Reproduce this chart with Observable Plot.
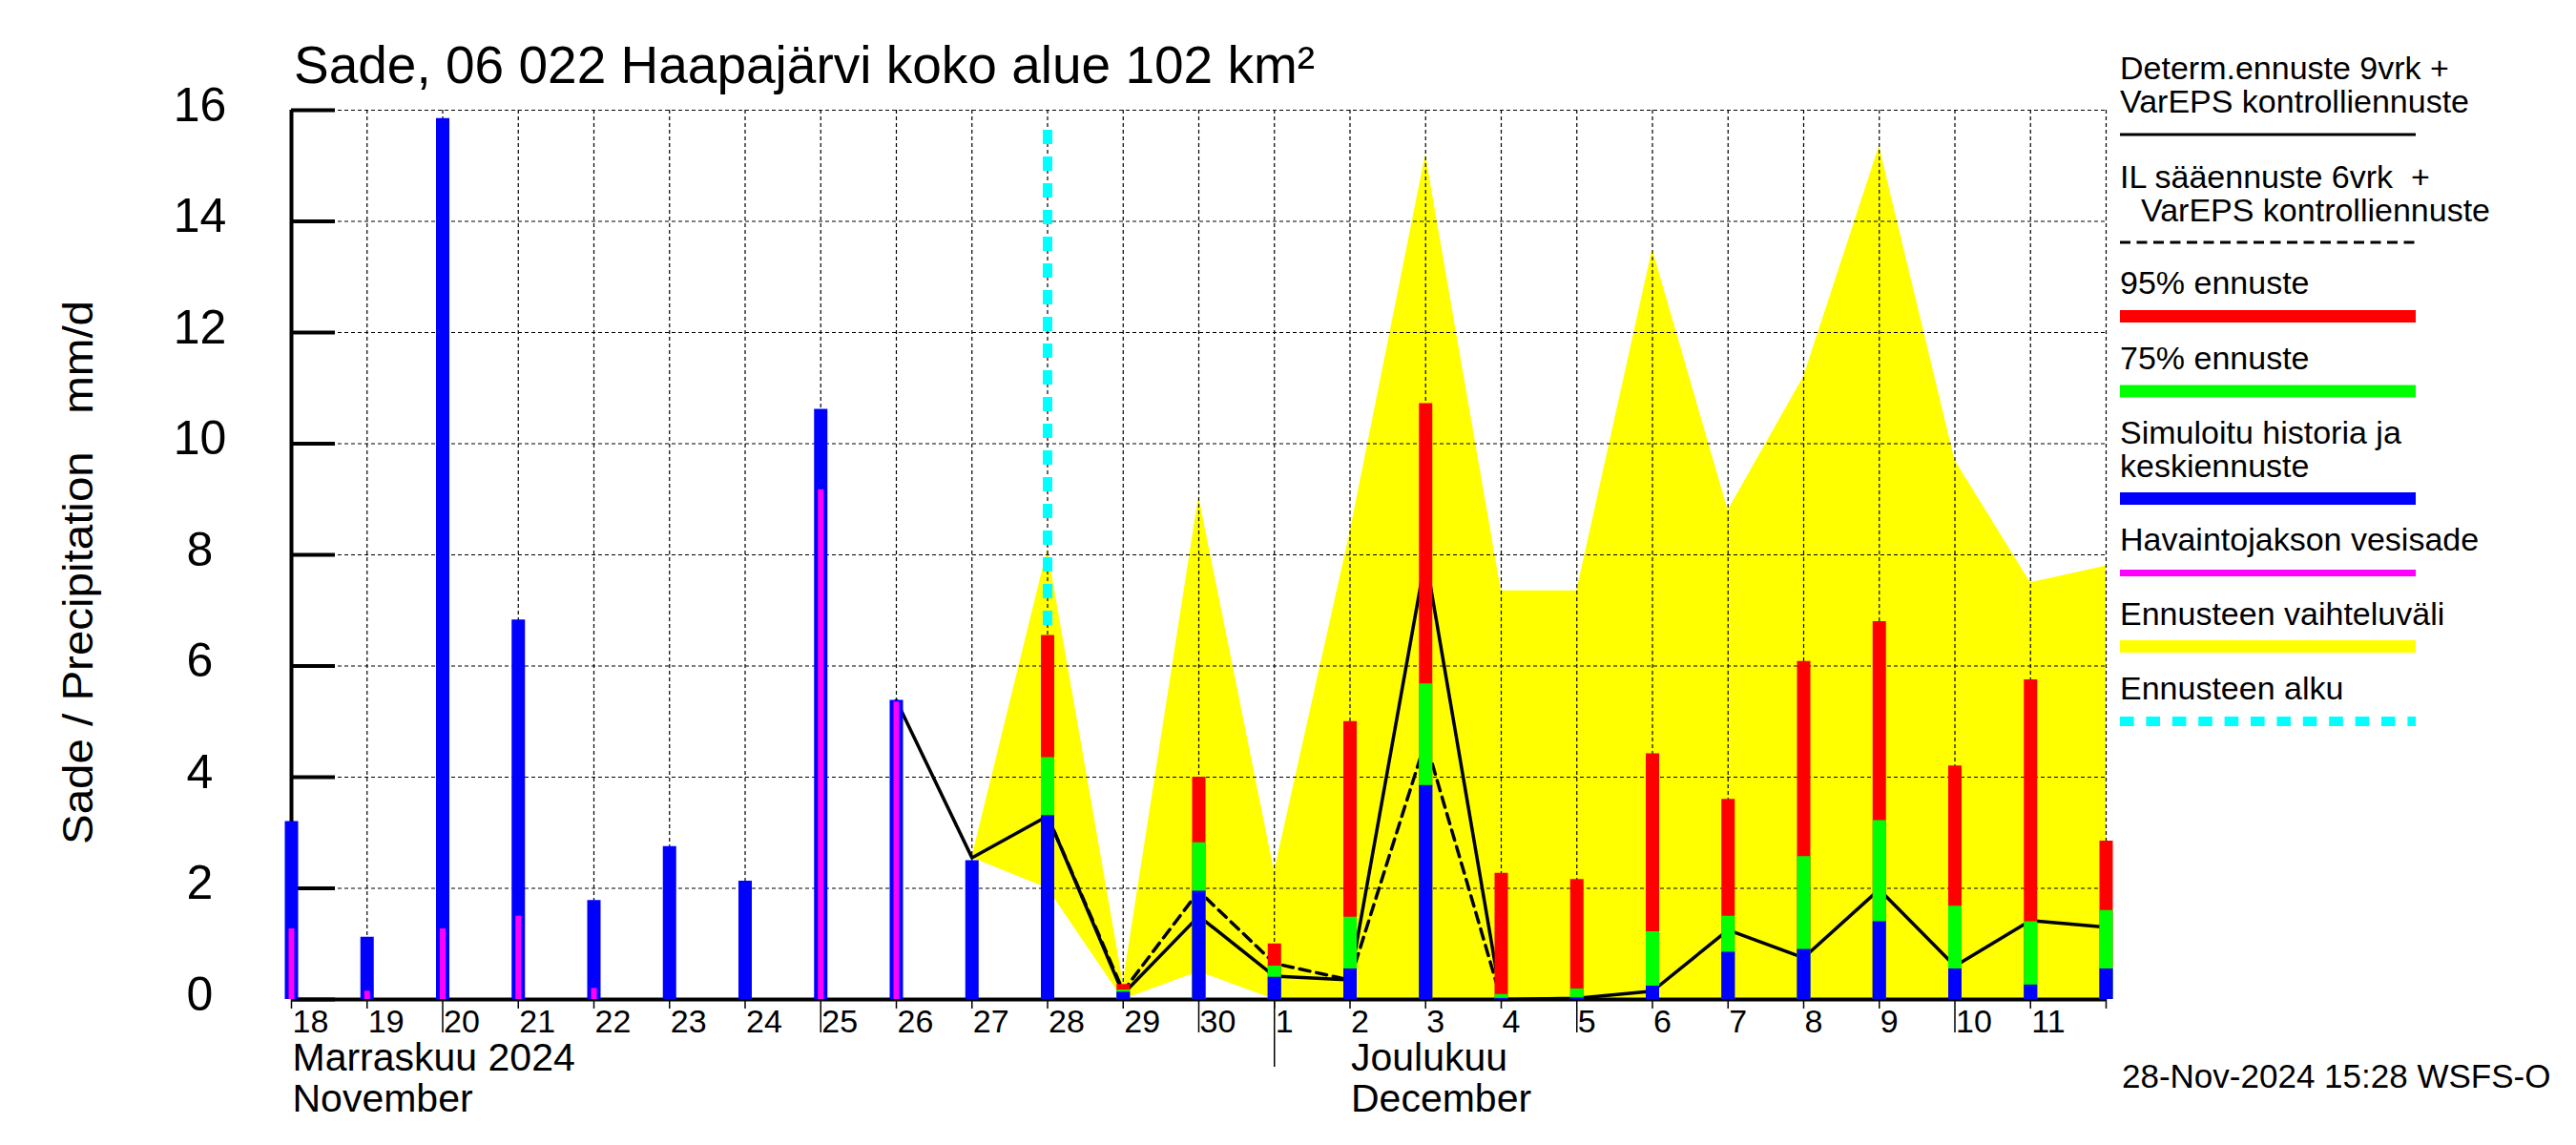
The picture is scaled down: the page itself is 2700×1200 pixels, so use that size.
<!DOCTYPE html>
<html><head><meta charset="utf-8">
<script src="https://cdn.jsdelivr.net/npm/d3@7"></script>
<script src="https://cdn.jsdelivr.net/npm/@observablehq/plot@0.6"></script>
<style>
body{margin:0;background:#fff;}
svg text{font-family:"Liberation Sans",Arial,Helvetica,sans-serif;}
</style></head><body><div id="chart"></div>
<script>
// ---- data ----
const histDates = ["2024-11-18","2024-11-19","2024-11-20","2024-11-21","2024-11-22","2024-11-23","2024-11-24","2024-11-25","2024-11-26","2024-11-27"];
const histMean  = [3.2, 1.12, 15.85, 6.83, 1.78, 2.75, 2.13, 10.62, 5.38, 2.5];
const obsDates  = ["2024-11-18","2024-11-19","2024-11-20","2024-11-21","2024-11-22","2024-11-23","2024-11-24","2024-11-25","2024-11-26"];
const obsRain   = [1.27, 0.15, 1.27, 1.5, 0.2, 0, 0, 9.17, 5.35];

const fcDates = ["2024-11-28","2024-11-29","2024-11-30","2024-12-01","2024-12-02","2024-12-03","2024-12-04","2024-12-05","2024-12-06","2024-12-07","2024-12-08","2024-12-09","2024-12-10","2024-12-11","2024-12-12"];
const fc95   = [6.55, 0.27, 4.0, 1.0, 5.0, 10.72, 2.27, 2.16, 4.42, 3.6, 6.08, 6.8, 4.2, 5.75, 2.85];
const fc75   = [4.35, 0.17, 2.82, 0.6, 1.48, 5.68, 0.09, 0.19, 1.22, 1.5, 2.57, 3.22, 1.68, 1.4, 1.6];
const fcMean = [3.31, 0.13, 1.95, 0.4, 0.55, 3.85, 0.02, 0.03, 0.24, 0.85, 0.9, 1.4, 0.55, 0.26, 0.55];

const bandDates = ["2024-11-27","2024-11-28","2024-11-29","2024-11-30","2024-12-01","2024-12-02","2024-12-03","2024-12-04","2024-12-05","2024-12-06","2024-12-07","2024-12-08","2024-12-09","2024-12-10","2024-12-11","2024-12-12"];
const bandHigh = [2.55, 8.1, 0.3, 9.05, 2.3, 8.4, 15.2, 7.35, 7.35, 13.5, 8.8, 11.2, 15.35, 9.7, 7.5, 7.8];
const bandLow  = [2.55, 2.0, 0.0, 0.5, 0.0, 0, 0, 0, 0, 0, 0, 0, 0, 0, 0, 0];

const detDates = ["2024-11-26","2024-11-27","2024-11-28","2024-11-29","2024-11-30","2024-12-01","2024-12-02","2024-12-03","2024-12-04","2024-12-05","2024-12-06","2024-12-07","2024-12-08","2024-12-09","2024-12-10","2024-12-11","2024-12-12"];
const detValues = [5.38, 2.55, 3.3, 0.1, 1.5, 0.42, 0.35, 7.95, 0.0, 0.02, 0.15, 1.25, 0.75, 1.98, 0.6, 1.42, 1.3];

const ilDates = ["2024-11-28","2024-11-29","2024-11-30","2024-12-01","2024-12-02","2024-12-03","2024-12-04"];
const ilValues = [3.3, 0.15, 1.95, 0.65, 0.35, 4.65, 0.0];

const forecastStart = "2024-11-28";
const forecastLineTop = 15.85;

const dayLabels = ["18","19","20","21","22","23","24","25","26","27","28","29","30","1","2","3","4","5","6","7","8","9","10","11"];
const yTicks = [0, 2, 4, 6, 8, 10, 12, 14, 16];
const monthLabels = [
  {date: "2024-11-18", l1: "Marraskuu 2024", l2: "November"},
  {date: "2024-12-02", l1: "Joulukuu", l2: "December"}
];
const monthStart = "2024-12-01";
const xStart = "2024-11-18", xEnd = "2024-12-12";

const titleText = "Sade, 06 022 Haapajärvi koko alue 102 km²";
const yLabelText = "Sade / Precipitation   mm/d";
const stampText = "28-Nov-2024 15:28 WSFS-O";

// ---- build tables ----
const D = s => new Date(s + "T00:00:00Z");
const hist = histDates.map((d, i) => ({date: D(d), v: histMean[i]}));
const obs = obsDates.map((d, i) => ({date: D(d), v: obsRain[i]}));
const fc = fcDates.map((d, i) => ({date: D(d), p95: fc95[i], p75: fc75[i], mean: fcMean[i]}));
const band = bandDates.map((d, i) => ({date: D(d), lo: bandLow[i], hi: bandHigh[i]}));
const det = detDates.map((d, i) => ({date: D(d), v: detValues[i]}));
const il = ilDates.map((d, i) => ({date: D(d), v: ilValues[i]}));
const days = d3.utcDay.range(D(xStart), D(xEnd));
const dayTicks = d3.utcDay.range(D(xStart), d3.utcDay.offset(D(xEnd), 1));
const labelled = days.map((d, i) => ({date: d, t: dayLabels[i]}));
const longTicks = dayTicks.filter(d => d.getUTCDate() % 5 === 0);
const shortTicks = dayTicks.filter(d => d.getUTCDate() % 5 !== 0);
const months = monthLabels.map(m => ({...m, date: D(m.date)}));

const BAR = 14;
const GRID = {stroke: "black", strokeOpacity: 1, strokeWidth: 1.2, strokeDasharray: "4,3"};
const chart = Plot.plot({
  width: 2700, height: 1200,
  marginLeft: 305, marginRight: 493, marginTop: 115, marginBottom: 153,
  style: {fontFamily: '"Liberation Sans",Arial,sans-serif', background: "white", overflow: "visible"},
  x: {type: "utc", domain: [D(xStart), D(xEnd)], axis: null},
  y: {domain: [0, 16], axis: null},
  marks: [
    Plot.areaY(band, {x: "date", y1: "lo", y2: "hi", fill: "#ffff00", curve: "linear"}),
    Plot.gridX(dayTicks.slice(1), GRID),
    Plot.gridY(yTicks.slice(1), GRID),
    Plot.ruleY([0], {stroke: "black", strokeWidth: 4}),
    Plot.ruleX([D(xStart)], {stroke: "black", strokeWidth: 4}),
    Plot.axisY(yTicks, {anchor: "left", tickSize: 46, dx: 46, fill: "none", label: null, stroke: "black", strokeWidth: 4}),
    Plot.axisX(shortTicks, {anchor: "bottom", tickSize: 10, fill: "none", label: null, stroke: "black", strokeWidth: 1.5}),
    Plot.axisX(longTicks, {anchor: "bottom", tickSize: 35, fill: "none", label: null, stroke: "black", strokeWidth: 1.5}),
    Plot.axisX([D(monthStart)], {anchor: "bottom", tickSize: 71, fill: "none", label: null, stroke: "black", strokeWidth: 1.5}),
    Plot.line(det, {x: "date", y: "v", stroke: "black", strokeWidth: 3.5, curve: "linear"}),
    Plot.line(il, {x: "date", y: "v", stroke: "black", strokeWidth: 3.5, strokeDasharray: "11,7", curve: "linear"}),
    Plot.ruleX([D(forecastStart)], {y1: 0, y2: forecastLineTop, stroke: "#00ffff", strokeWidth: 10, strokeDasharray: "15,13"}),
    Plot.ruleX(fc, {x: "date", y1: 0, y2: "p95", stroke: "#ff0000", strokeWidth: BAR}),
    Plot.ruleX(fc, {x: "date", y1: 0, y2: "p75", stroke: "#00ff00", strokeWidth: BAR}),
    Plot.ruleX(fc, {x: "date", y1: 0, y2: "mean", stroke: "#0000ff", strokeWidth: BAR}),
    Plot.ruleX(hist, {x: "date", y1: 0, y2: "v", stroke: "#0000ff", strokeWidth: BAR}),
    Plot.ruleX(obs.filter(d => d.v > 0), {x: "date", y1: 0, y2: "v", stroke: "#ff00ff", strokeWidth: 6}),
    Plot.text(yTicks, {frameAnchor: "left", y: d => d, text: d => String(d), dx: -96, dy: -5, textAnchor: "middle", lineAnchor: "middle", fontSize: 50, fill: "black"}),
    Plot.text(labelled, {x: "date", text: "t", frameAnchor: "bottom", dy: 34, dx: 1, textAnchor: "start", lineAnchor: "bottom", fontSize: 34, fill: "black"}),
    Plot.text(months, {x: "date", text: "l1", frameAnchor: "bottom", dy: 74, dx: 1, textAnchor: "start", lineAnchor: "bottom", fontSize: 41, fill: "black"}),
    Plot.text(months, {x: "date", text: "l2", frameAnchor: "bottom", dy: 117, dx: 1, textAnchor: "start", lineAnchor: "bottom", fontSize: 41, fill: "black"})
  ]
});
document.getElementById("chart").appendChild(chart);

// ---- titles, legend ----
const svg = d3.select(chart);
const FONT = '"Liberation Sans",Arial,Helvetica,sans-serif';
const addText = (x, y, size, t) => svg.append("text").attr("x", x).attr("y", y)
  .attr("font-size", size).attr("font-family", FONT).attr("fill", "black")
  .attr("text-anchor", "start").style("white-space", "pre").text(t);
addText(308, 87, 55, titleText);
svg.append("text").attr("transform", "translate(97,600) rotate(-90)").attr("text-anchor", "middle")
  .attr("font-size", 44).attr("font-family", FONT).attr("fill", "black")
  .attr("textLength", 570).attr("lengthAdjust", "spacingAndGlyphs")
  .style("white-space", "pre").text(yLabelText);
addText(2224, 1140, 35, stampText);

const LX = 2222, LW = 310, LF = 34;
const legendText = [
  {t: "Determ.ennuste 9vrk +", x: LX, y: 83},
  {t: "VarEPS kontrolliennuste", x: LX, y: 118},
  {t: "IL sääennuste 6vrk  +", x: LX, y: 197},
  {t: "VarEPS kontrolliennuste", x: LX + 22, y: 232},
  {t: "95% ennuste", x: LX, y: 308},
  {t: "75% ennuste", x: LX, y: 387},
  {t: "Simuloitu historia ja", x: LX, y: 465},
  {t: "keskiennuste", x: LX, y: 500},
  {t: "Havaintojakson vesisade", x: LX, y: 577},
  {t: "Ennusteen vaihteluväli", x: LX, y: 655},
  {t: "Ennusteen alku", x: LX, y: 733}
];
legendText.forEach(d => addText(d.x, d.y, LF, d.t));
const legendLines = [
  {y: 141, c: "black", w: 3, dash: null},
  {y: 254, c: "black", w: 3, dash: "11,6.5"},
  {y: 331.5, c: "#ff0000", w: 13, dash: null},
  {y: 410, c: "#00ff00", w: 13, dash: null},
  {y: 522.5, c: "#0000ff", w: 13, dash: null},
  {y: 600.5, c: "#ff00ff", w: 7, dash: null},
  {y: 677.5, c: "#ffff00", w: 13, dash: null},
  {y: 756, c: "#00ffff", w: 10, dash: "14.6,12.8"}
];
legendLines.forEach(d => {
  const l = svg.append("line").attr("x1", LX).attr("x2", LX + LW).attr("y1", d.y).attr("y2", d.y)
    .attr("stroke", d.c).attr("stroke-width", d.w);
  if (d.dash) l.attr("stroke-dasharray", d.dash);
});
</script></body></html>
